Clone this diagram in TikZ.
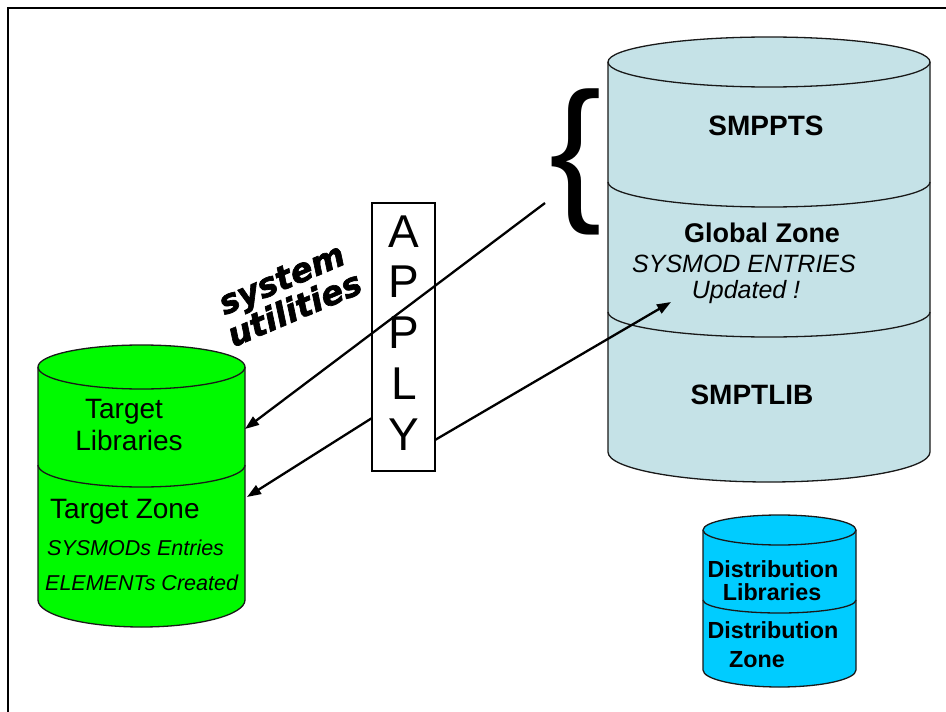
\documentclass[tikz,border=0pt]{standalone}
\usepackage{fontspec}
\setmainfont{Liberation Sans}
\newfontfamily\heavyfont{DejaVu Sans}[BoldItalicFeatures={FakeBold=2}]
\usetikzlibrary{arrows.meta}
\definecolor{smpblue}{RGB}{197,226,231}
\definecolor{tgtgreen}{RGB}{0,250,0}
\definecolor{dlbblue}{RGB}{0,204,255}
\definecolor{cylline}{RGB}{25,25,25}
\newcommand{\drawcyl}[7]{%
  \filldraw[fill=#7, draw=cylline, line width=1.3]
    ({#1-#2},#3) -- ({#1-#2},#5) arc[start angle=180, end angle=0, x radius=#2, y radius=#6]
    -- ({#1+#2},#3) arc[start angle=0, end angle=-180, x radius=#2, y radius=#4] -- cycle;
  \draw[draw=cylline, line width=1.3] ({#1-#2},#3) arc[start angle=180, end angle=0, x radius=#2, y radius=#4];
}
\newcommand{\cyldiv}[4]{%
  \draw[draw=cylline, line width=1.3] ({#1-#2},#3) arc[start angle=180, end angle=0, x radius=#2, y radius=#4];
}
\begin{document}
\begin{tikzpicture}[x=1pt,y=-1pt,
  txt/.style={inner sep=0, anchor=base},
  boldtxt/.style={txt, font=\bfseries\fontsize{28}{30}\selectfont},
  bluetxt/.style={txt, font=\bfseries\fontsize{23.3}{25}\selectfont},
  greentxt/.style={txt, font=\fontsize{28}{30}\selectfont},
  greenital/.style={txt, anchor=base west, font=\itshape\fontsize{21.5}{23}\selectfont},
  globital/.style={txt, font=\itshape\fontsize{25}{27}\selectfont},
  applyletter/.style={txt, font=\fontsize{46}{48}\selectfont},
  heavy/.style={inner sep=0, rotate=23, align=center, font=\heavyfont\bfseries\itshape\fontsize{33}{33}\selectfont},
  conn/.style={line width=2.3, -{Triangle[length=14pt,width=10pt]}}]
\useasboundingbox (0,0) rectangle (946,712);
\fill[white] (0,0) rectangle (946,712);
% frame
\draw[line width=2] (8,712) -- (8,8) -- (946,8);

% big cylinder (SMPPTS / Global Zone / SMPTLIB)
\drawcyl{769}{161}{62}{25}{452}{30}{smpblue}
\cyldiv{769}{161}{182}{25}
\cyldiv{769}{161}{312}{25}

% target cylinder
\drawcyl{141.5}{103.5}{367}{22}{600}{27}{tgtgreen}
\cyldiv{141.5}{103.5}{465}{22}

% distribution cylinder
\drawcyl{779.5}{76.5}{530}{15}{670}{17}{dlbblue}
\cyldiv{779.5}{76.5}{600}{13}

% texts in big cylinder
\node[boldtxt] (smppts) at (766,135) {SMPPTS};
\node[boldtxt, font=\bfseries\fontsize{27}{29}\selectfont] (gzone) at (762,242) {Global Zone};
\node[globital] (sysent) at (744,272) {SYSMOD ENTRIES};
\node[globital] (upd) at (746,298) {Updated !};
\node[boldtxt] (smptlib) at (752,404) {SMPTLIB};

% texts in target cylinder
\node[greentxt] (tgt) at (124,418) {Target};
\node[greentxt] (lib) at (129,450) {Libraries};
\node[greentxt, anchor=base west] (tzone) at (50,518) {Target Zone};
\node[greenital] (sysmods) at (47,555) {SYSMODs Entries};
\node[greenital] (elem) at (45,590) {ELEMENTs Created};

% texts in distribution cylinder
\node[bluetxt] (dist1) at (773,577) {Distribution};
\node[bluetxt] (dlib) at (772,600) {Libraries};
\node[bluetxt] (dist2) at (773,638) {Distribution};
\node[bluetxt] (dzone) at (757,667) {Zone};

% system utilities
\node[heavy] (sysutil) at (288,294) {system\\utilities};

% APPLY box
\node[draw, line width=1.5, fill=white, minimum width=63, minimum height=268, inner sep=0] (apply) at (403.5,337) {};
\foreach \l [count=\i] in {A,P,P,L,Y}
  \node[applyletter] (ap\i) at (404,{247+50.8*(\i-1)}) {\l};

% brace
\node[inner sep=0, font=\fontsize{157}{157}\selectfont] (brace) at (575.5,161.5) {\{};

% connectors
\coordinate (a1s) at (545,203);
\coordinate (tlibpt) at (245,429);
\coordinate (a2s) at (372,418);
\coordinate (tzonept) at (247,497);
\coordinate (a3s) at (435,440);
\coordinate (gzpt) at (671,302);
\draw[conn] (a1s) -- (tlibpt);
\draw[conn] (a2s) -- (tzonept);
\draw[conn] (a3s) -- (gzpt);
\end{tikzpicture}
\end{document}
